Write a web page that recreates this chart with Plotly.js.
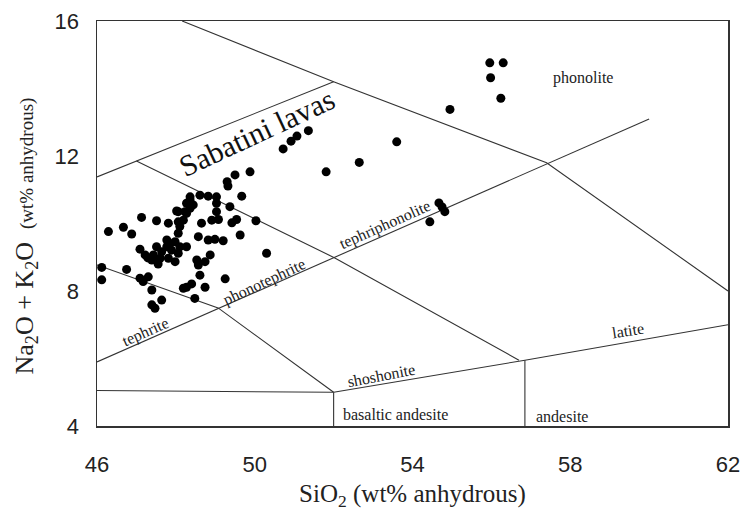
<!DOCTYPE html>
<html>
<head>
<meta charset="utf-8">
<script src="https://cdn.plot.ly/plotly-3.0.1.min.js"></script>
<style>html,body{margin:0;padding:0;background:#fff;}#chart{width:741px;height:511px;}</style>
</head>
<body>
<div id="chart"></div>
<script>
// Sample data: SiO2 (wt%) and Na2O+K2O (wt%)
var sio2 = [55.96,56.30,55.98,56.24,54.95,53.60,52.65,51.81,51.36,51.07,50.92,50.72,49.88,49.50,49.30,49.67,54.67,54.75,54.82,54.44,
49.32,48.36,48.61,48.82,49.03,49.03,49.03,49.37,48.27,48.36,48.06,48.27,47.13,47.51,47.81,48.06,48.65,48.91,49.08,49.42,49.54,50.03,
46.29,46.67,46.88,48.10,48.06,47.98,48.57,48.82,48.99,49.20,49.63,47.09,47.77,47.51,47.77,47.89,47.64,47.43,47.60,47.81,47.98,47.39,48.06,48.10,48.27,47.85,48.53,48.74,48.87,50.30,
46.12,46.75,48.61,49.25,46.12,47.09,47.30,47.17,47.39,48.27,48.40,48.74,48.48,47.64,47.39,47.47,48.19,48.36,48.44,48.23,48.02,48.19,48.57,47.55,47.22,47.29];
var alkali = [14.76,14.76,14.32,13.71,13.38,12.42,11.81,11.53,12.75,12.59,12.44,12.21,11.53,11.44,11.24,10.81,10.61,10.49,10.35,10.05,
11.11,10.79,10.84,10.81,10.79,10.60,10.35,10.50,10.60,10.45,10.35,10.30,10.18,10.08,10.01,10.05,10.01,10.10,10.12,10.02,10.12,10.08,
9.76,9.89,9.69,9.91,9.71,9.46,9.61,9.51,9.53,9.49,9.66,9.24,9.51,9.31,9.31,9.21,9.16,9.07,8.97,8.97,8.87,8.92,9.12,9.31,9.31,9.41,8.92,8.87,9.07,9.12,
8.70,8.64,8.47,8.36,8.33,8.38,8.42,8.28,8.03,8.11,8.21,8.11,7.78,7.73,7.59,7.49,8.08,10.70,10.55,10.35,10.37,10.10,8.77,8.80,9.07,8.98];

// Field boundary lines (SiO2, Na2O+K2O)
var phonoliteBase_x = [48.16, 52.0, 57.4, 62.0];
var phonoliteBase_y = [16.0, 14.2, 11.8, 8.0];
var tephriteTop_x = [46.0, 60.0];
var tephriteTop_y = [5.9, 13.1];
var sabatiniUpper_x = [46.0, 52.0];
var sabatiniUpper_y = [11.38, 14.2];
var phonotephriteTop_x = [47.0, 52.03, 56.7];
var phonotephriteTop_y = [11.85, 8.98, 5.95];
var tephriteBase_x = [46.0, 49.07, 52.0];
var tephriteBase_y = [8.77, 7.5, 5.0];
var basaltTop_x = [46.0, 52.0];
var basaltTop_y = [5.05, 5.0];
var basAndLeft_x = [52.0, 52.0];
var basAndLeft_y = [4.0, 5.0];
var shoshoniteBase_x = [52.0, 56.85, 62.0];
var shoshoniteBase_y = [5.0, 5.95, 7.0];
var andesiteLeft_x = [56.85, 56.85];
var andesiteLeft_y = [4.0, 5.95];

var boundaries = [
  [phonoliteBase_x, phonoliteBase_y], [tephriteTop_x, tephriteTop_y],
  [sabatiniUpper_x, sabatiniUpper_y], [phonotephriteTop_x, phonotephriteTop_y],
  [tephriteBase_x, tephriteBase_y], [basaltTop_x, basaltTop_y],
  [basAndLeft_x, basAndLeft_y], [shoshoniteBase_x, shoshoniteBase_y],
  [andesiteLeft_x, andesiteLeft_y]
];

// Field labels
var fieldNames = ['phonolite','tephriphonolite','phonotephrite','tephrite','shoshonite','latite','basaltic andesite','andesite'];
var fieldX = [58.32, 53.3, 50.25, 47.24, 53.2, 59.46, 53.58, 57.79];
var fieldY = [14.3, 9.97, 8.26, 6.79, 5.5, 6.83, 4.33, 4.27];
var fieldAngle = [0, -24, -25, -24, -11, -9, 0, 0];

var xTicks = [46, 50, 54, 58, 62];
var yTicks = [4, 8, 12, 16];

var serif = 'Liberation Serif, Times New Roman, serif';
var traces = boundaries.map(function (b) {
  return {x: b[0], y: b[1], mode: 'lines', type: 'scatter', hoverinfo: 'skip',
          line: {color: '#333', width: 1.1}, showlegend: false};
});
traces.push({x: sio2, y: alkali, mode: 'markers', type: 'scatter', showlegend: false,
  marker: {color: '#000', size: 9, line: {width: 0}}});

var annotations = fieldNames.map(function (t, i) {
  return {x: fieldX[i], y: fieldY[i], xref: 'x', yref: 'y', text: t, showarrow: false,
          textangle: fieldAngle[i], font: {family: serif, size: 16, color: '#222'}};
});
annotations.push({x: 50.05, y: 12.7, xref: 'x', yref: 'y', text: 'Sabatini lavas', showarrow: false,
  textangle: -25, font: {family: serif, size: 30, color: '#111'}});
// Y axis title
annotations.push({x: 0, y: 0.5, xref: 'paper', yref: 'paper', xanchor: 'center', yanchor: 'middle',
  xshift: -72, yshift: -13, textangle: -90, showarrow: false,
  text: 'Na<sub>2</sub>O + K<sub>2</sub>O  <span style="font-size:19px">(wt% anhydrous)</span>',
  font: {family: serif, size: 26, color: '#222'}});

var layout = {
  width: 741, height: 511,
  margin: {l: 97, r: 13, t: 21, b: 85},
  paper_bgcolor: '#fff', plot_bgcolor: '#fff',
  xaxis: {range: [46, 62], tickvals: xTicks, ticktext: xTicks.map(String), showgrid: false, zeroline: false,
    showline: true, mirror: true, linecolor: '#333', linewidth: 1.5, ticks: '', ticklabelstandoff: 18,
    tickfont: {family: 'Liberation Sans, Arial, sans-serif', size: 22, color: '#222'},
    title: {text: 'SiO<sub>2</sub> (wt% anhydrous)', standoff: 8, font: {family: serif, size: 25, color: '#222'}}},
  yaxis: {range: [4, 16], tickvals: yTicks, ticktext: yTicks.map(String), showgrid: false, zeroline: false,
    showline: true, mirror: true, linecolor: '#333', linewidth: 1.5, ticks: '', ticklabelstandoff: 12,
    tickfont: {family: 'Liberation Sans, Arial, sans-serif', size: 22, color: '#222'}},
  annotations: annotations
};

Plotly.newPlot('chart', traces, layout, {displayModeBar: false, staticPlot: true});
</script>
</body>
</html>
